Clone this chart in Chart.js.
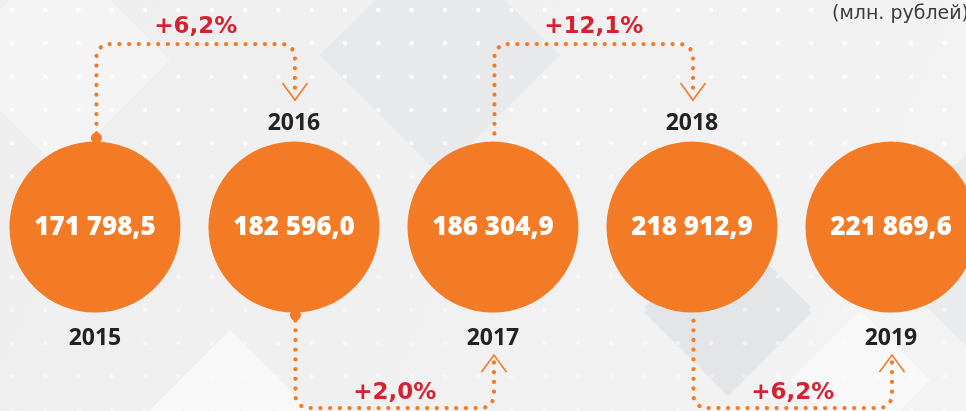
<!DOCTYPE html>
<html lang="ru">
<head>
<meta charset="utf-8">
<title>Динамика, млн. рублей</title>
<script src="https://cdn.jsdelivr.net/npm/chart.js@4"></script>
<style>
    html, body { margin: 0; padding: 0; background: #f0f0f1; }
    #wrap { position: relative; width: 966px; height: 411px; overflow: hidden; }
</style>
</head>
<body>
<div id="wrap"><canvas id="chart"></canvas></div>
<script>
// данные
const YEARS = ["2015", "2016", "2017", "2018", "2019"];
const VALUES = [171798.5, 182596.0, 186304.9, 218912.9, 221869.6];
const GROWTH = ["+6,2%", "+2,0%", "+12,1%", "+6,2%"];
const UNIT_LABEL = "(млн. рублей)";

const ORANGE = "#f37b25";
const RED = "#d42230";
const DARK = "#222222";
const R = 85.5;

function formatValue(v) {
    const parts = v.toFixed(1).split(".");
    return parts[0].replace(/\B(?=(\d{3})+(?!\d))/g, " ") + "," + parts[1];
}

function diamond(ctx, cx, cy, h, color) {
    ctx.fillStyle = color;
    ctx.beginPath();
    ctx.moveTo(cx, cy - h);
    ctx.lineTo(cx + h, cy);
    ctx.lineTo(cx, cy + h);
    ctx.lineTo(cx - h, cy);
    ctx.closePath();
    ctx.fill();
}

// фон: светлые ромбы и сетка белых точек
const backdrop = {
    id: "backdrop",
    beforeDraw(chart) {
        const { ctx, width, height } = chart;
        ctx.save();
        const g = ctx.createLinearGradient(0, 0, width, height);
        g.addColorStop(0, "#eeeeef");
        g.addColorStop(1, "#f3f3f4");
        ctx.fillStyle = g;
        ctx.fillRect(0, 0, width, height);
        diamond(ctx, 60, 60, 110, "rgba(255,255,255,0.35)");
        diamond(ctx, 440, 55, 120, "rgba(222,223,226,0.45)");
        diamond(ctx, 230, 420, 90, "rgba(255,255,255,0.55)");
        diamond(ctx, 728, 310, 86, "rgba(214,216,219,0.5)");
        diamond(ctx, 860, 380, 70, "rgba(255,255,255,0.45)");
        diamond(ctx, 980, 250, 110, "rgba(226,227,229,0.5)");
        for (let y = 10; y < height; y += 33.3) {
            for (let x = 12; x < width; x += 33.3) {
                ctx.globalAlpha = Math.max(0.25, 0.95 - y / height * 0.6);
                ctx.fillStyle = "#ffffff";
                ctx.beginPath();
                ctx.arc(x, y, 2.2, 0, Math.PI * 2);
                ctx.fill();
            }
        }
        ctx.restore();
    },
};

// подписи, значения и пунктирные стрелки роста
const labels = {
    id: "labels",
    afterDatasetsDraw(chart) {
        const { ctx } = chart;
        const xs = chart.scales.x, ys = chart.scales.y;
        const cy = ys.getPixelForValue(0);
        ctx.save();

        ctx.textAlign = "center";
        ctx.textBaseline = "alphabetic";
        YEARS.forEach((year, i) => {
            const x = xs.getPixelForValue(i);
            ctx.fillStyle = "#ffffff";
            ctx.font = '800 26px "Open Sans"';
            ctx.fillText(formatValue(VALUES[i]), x, cy + 7.5);
            ctx.fillStyle = DARK;
            ctx.font = '700 23px "Open Sans"';
            ctx.fillText(year, x, i % 2 === 0 ? cy + 118 : cy - 97);
        });

        GROWTH.forEach((label, i) => {
            const top = i % 2 === 0;
            const x0 = xs.getPixelForValue(i) + 1.5;
            const x1 = xs.getPixelForValue(i + 1) + 1;
            const y0 = top ? cy - R - 8 : cy + R + 8;
            const yL = top ? cy - 183 : cy + 181;
            const y1 = top ? cy - 131 : cy + 133;
            const tip = top ? cy - 127 : cy + 128;
            const dir = top ? -1 : 1;

            ctx.strokeStyle = ORANGE;
            ctx.lineWidth = 4.2;
            ctx.lineCap = "round";
            ctx.setLineDash([0.1, 9.6]);
            ctx.beginPath();
            ctx.moveTo(x0, y0);
            ctx.arcTo(x0, yL, x1, yL, 13);
            ctx.arcTo(x1, yL, x1, y1, 13);
            ctx.lineTo(x1, y1);
            ctx.stroke();

            ctx.setLineDash([]);
            ctx.lineWidth = 1.6;
            ctx.lineCap = "butt";
            ctx.beginPath();
            ctx.moveTo(x1 - 12.5, tip + dir * 17);
            ctx.lineTo(x1, tip);
            ctx.lineTo(x1 + 12.5, tip + dir * 17);
            ctx.stroke();

            if (i < 2) {
                ctx.fillStyle = ORANGE;
                ctx.beginPath();
                ctx.arc(x0, top ? cy - R - 3.5 : cy + R + 2.5, 5.5, 0, Math.PI * 2);
                ctx.fill();
            }

            ctx.fillStyle = RED;
            ctx.font = 'bold 23px "DejaVu Sans"';
            ctx.fillText(label, (x0 + x1) / 2, top ? 33 : 399);
        });

        ctx.textAlign = "left";
        ctx.fillStyle = "#3c3c3c";
        ctx.font = '19px "DejaVu Sans"';
        ctx.fillText(UNIT_LABEL, 832, 19);
        ctx.restore();
    },
};

new Chart(document.getElementById("chart"), {
    type: "scatter",
    data: {
        datasets: [{
            data: YEARS.map((_, i) => ({ x: i, y: 0 })),
            backgroundColor: ORANGE,
            borderWidth: 0,
            pointRadius: R,
            pointHoverRadius: R,
            clip: false,
        }],
    },
    options: {
        responsive: true,
        maintainAspectRatio: false,
        animation: false,
        events: [],
        layout: { padding: 0, autoPadding: false },
        scales: {
            x: { type: "linear", min: -0.477, max: 4.377, display: false },
            y: { min: -0.81, max: 1, display: false },
        },
        plugins: { legend: { display: false }, tooltip: { enabled: false } },
    },
    plugins: [backdrop, labels],
});
</script>
</body>
</html>
